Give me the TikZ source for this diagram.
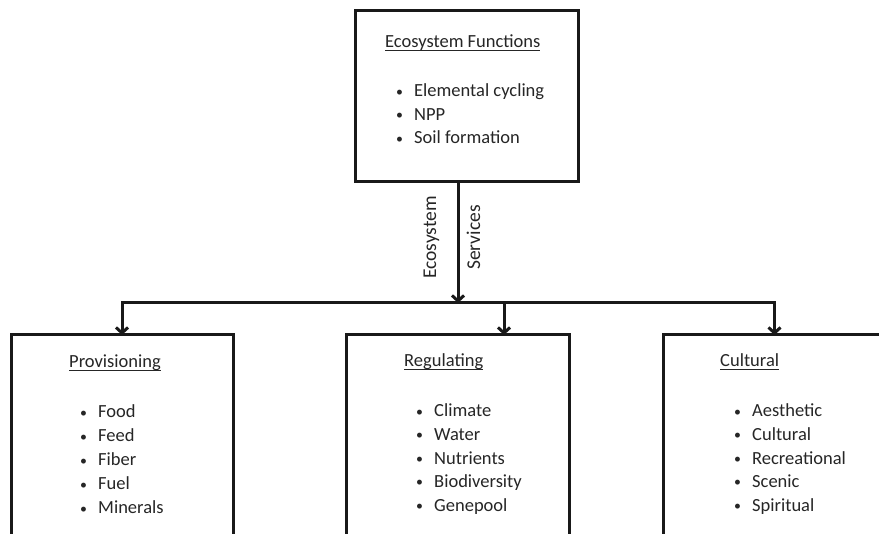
\documentclass[tikz,border=0pt]{standalone}
\usepackage{fontspec}
\setmainfont{Carlito}
\usetikzlibrary{arrows.meta}
% 下線付きの見出し
\newcommand{\hd}[1]{\setbox0=\hbox{#1}\rlap{\vrule width \wd0 height -2pt depth 3.4pt}\box0}
% 箇条書きの一行
\newcommand{\itm}[1]{\makebox[19pt][l]{\hspace{1pt}\raisebox{0.8pt}{\scalebox{0.75}{\textbullet}}}#1}
\begin{document}
\begin{tikzpicture}[x=1pt,y=-1pt,
    box/.style={draw=black!90,line width=3pt,shape=rectangle,inner sep=0pt,outer sep=0pt},
    head/.style={anchor=base west,inner sep=0pt,text=black!85},
    items/.style={anchor=base west,inner sep=0pt,text=black!85},
    arr/.style={draw=black!90,line width=3pt,-{Straight Barb[length=5.5pt,width=12pt]}},
    every node/.style={font=\fontsize{18.5}{24}\selectfont}]
    \fill[white] (0,0) rectangle (879,534);
    \useasboundingbox (0,0) rectangle (879,534);
    \clip (0,0) rectangle (879,534);
    % 箱
    \node[box,minimum width=223pt,minimum height=171pt] (func) at (466.5,96.5) {};
    \node[box,minimum width=222pt,minimum height=201pt] (prov) at (122,435.5) {};
    \node[box,minimum width=223pt,minimum height=201pt] (reg) at (457.5,435.5) {};
    \node[box,minimum width=223pt,minimum height=201pt] (cult) at (774.5,435.5) {};
    % 矢印
    \coordinate (bus) at (458,303);
    \draw[arr] (func.south -| bus) -- (bus);
    \draw[arr,{Straight Barb[length=5.5pt,width=12pt]}-{Straight Barb[length=5.5pt,width=12pt]}]
        (prov.north) |- (cult.north |- bus) -- (cult.north);
    \coordinate (regin) at (504,335);
    \draw[arr] (regin |- bus) -- (regin);
    \node[rotate=90,anchor=base,inner sep=0pt,text=black!85,font=\fontsize{19.5}{24}\selectfont] (lbleco) at (436,237.5) {Ecosystem};
    \node[rotate=90,anchor=base,inner sep=0pt,text=black!85,font=\fontsize{19.5}{24}\selectfont] (lblserv) at (480,237.5) {Services};
    % 文字
    \node[head] (funcT) at (385,48) {\hd{Ecosystem Functions}};
    \foreach \t [count=\i from 0] in {Elemental cycling,NPP,Soil formation}
        \node[items] (func\i) at (395,97+23.5*\i) {\itm{\t}};
    \node[head] (provT) at (69,368) {\hd{Provisioning}};
    \foreach \t [count=\i from 0] in {Food,Feed,Fiber,Fuel,Minerals}
        \node[items] (prov\i) at (79,418+24*\i) {\itm{\t}};
    \node[head] (regT) at (404,367) {\hd{Regulating}};
    \foreach \t [count=\i from 0] in {Climate,Water,Nutrients,Biodiversity,Genepool}
        \node[items] (reg\i) at (415,417+23.6*\i) {\itm{\t}};
    \node[head] (cultT) at (720,367) {\hd{Cultural}};
    \foreach \t [count=\i from 0] in {Aesthetic,Cultural,Recreational,Scenic,Spiritual}
        \node[items] (cult\i) at (733,417+23.6*\i) {\itm{\t}};
\end{tikzpicture}
\end{document}
